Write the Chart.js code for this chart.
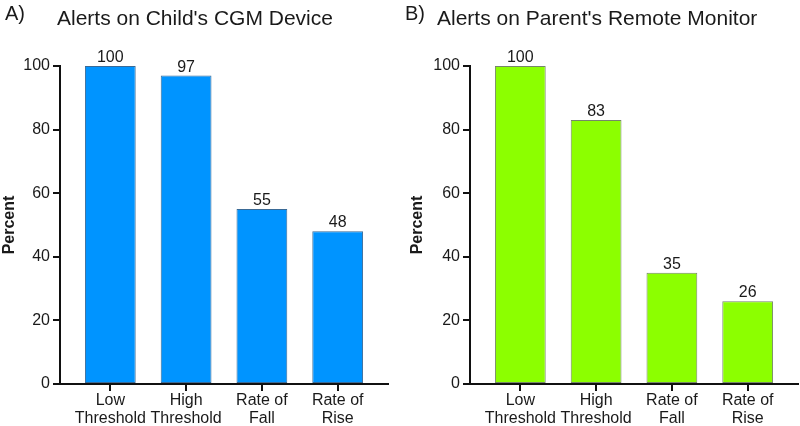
<!DOCTYPE html>
<html>
<head>
<meta charset="utf-8">
<script src="https://cdn.jsdelivr.net/npm/chart.js"></script>
<style>
  body { margin:0; background:#fff; }
  .panel { position:absolute; top:0; width:400px; height:426px; }
</style>
</head>
<body>
<div class="panel" style="left:0;"><canvas id="chartA" width="400" height="426"></canvas></div>
<div class="panel" style="left:400px;"><canvas id="chartB" width="400" height="426"></canvas></div>
<script>
const categories = [['Low', 'Threshold'], ['High', 'Threshold'], ['Rate of', 'Fall'], ['Rate of', 'Rise']];
const childValues = [100, 97, 55, 48];
const parentValues = [100, 83, 35, 26];
const yTicks = [0, 20, 40, 60, 80, 100];

const FONT = '"Liberation Sans", Arial, sans-serif';
const TEXT = '#1a1a1a';

const headerPlugin = {
  id: 'header',
  afterDraw(chart, args, o) {
    const ctx = chart.ctx;
    ctx.save();
    ctx.fillStyle = TEXT;
    ctx.textBaseline = 'alphabetic';
    ctx.textAlign = 'left';
    ctx.font = '20px ' + FONT;
    ctx.fillText(o.letter, 5, 20);
    ctx.font = '21px ' + FONT;
    ctx.fillText(o.title, o.titleX, 25);
    ctx.restore();
  }
};

const valueLabels = {
  id: 'valueLabels',
  afterDatasetsDraw(chart) {
    const ctx = chart.ctx;
    const meta = chart.getDatasetMeta(0);
    const vals = chart.data.datasets[0].data;
    ctx.save();
    ctx.font = '16px ' + FONT;
    ctx.fillStyle = TEXT;
    ctx.textAlign = 'center';
    ctx.textBaseline = 'alphabetic';
    meta.data.forEach((bar, i) => {
      ctx.fillText(String(vals[i].y), bar.x, bar.y - 4);
    });
    ctx.restore();
  }
};

function makeChart(id, values, fill, border, letter, title, titleX, padLeft, yWidth, padRight) {
  return new Chart(document.getElementById(id), {
    type: 'bar',
    data: {
      datasets: [{
        data: values.map((v, i) => ({ x: i, y: v })),
        backgroundColor: fill,
        borderColor: border,
        borderWidth: 1,
        borderSkipped: false,
        barPercentage: 0.67,
        categoryPercentage: 1
      }]
    },
    options: {
      responsive: false,
      animation: false,
      layout: { padding: { top: 66, left: padLeft, right: padRight, bottom: 0 } },
      plugins: {
        legend: { display: false },
        tooltip: { enabled: false },
        header: { letter, title, titleX }
      },
      scales: {
        x: {
          type: 'linear',
          offset: false,
          min: -0.664,
          max: 3.664,
          afterBuildTicks: s => { s.ticks = categories.map((c, i) => ({ value: i })); },
          afterFit: s => { s.height = 42; },
          ticks: {
            callback: v => categories[v],
            color: TEXT,
            font: { family: FONT, size: 16, lineHeight: 1.12 },
            padding: 1,
            maxRotation: 0,
            autoSkip: false
          },
          grid: { offset: false, drawOnChartArea: false, drawTicks: true, tickLength: 7, color: '#111', lineWidth: 2 },
          border: { color: '#111', width: 2 }
        },
        y: {
          min: 0,
          max: 100,
          afterBuildTicks: s => { s.ticks = yTicks.map(v => ({ value: v })); },
          afterFit: s => { s.width = yWidth; },
          ticks: {
            color: TEXT,
            font: { family: FONT, size: 16 },
            padding: 3
          },
          grid: { drawOnChartArea: false, drawTicks: true, tickLength: 7, color: '#111', lineWidth: 2 },
          border: { color: '#111', width: 2 },
          title: {
            display: true,
            text: 'Percent',
            color: TEXT,
            font: { family: FONT, size: 16, weight: 'bold' },
            padding: 0
          }
        }
      }
    },
    plugins: [headerPlugin, valueLabels]
  });
}

makeChart('chartA', childValues, '#0094FF', '#3a6a96', 'A)', "Alerts on Child's CGM Device", 57, 0, 60, 12);
makeChart('chartB', parentValues, '#8CFF00', '#76866a', 'B)', "Alerts on Parent's Remote Monitor", 37, 8, 62, 2);
</script>
</body>
</html>
